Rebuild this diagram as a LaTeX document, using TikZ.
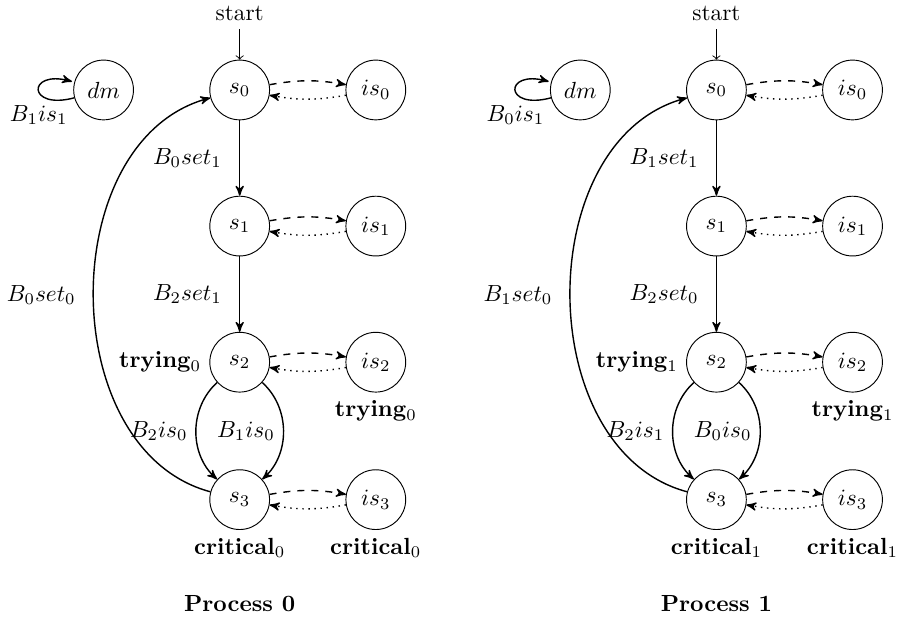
\documentclass[tikz,border=0pt]{standalone}
\usetikzlibrary{arrows,automata,positioning}

\tikzset{
  st/.style={state, minimum size=0.9cm, inner sep=1pt},
  trans/.style={->, >=stealth', semithick},
  back/.style={trans, bend left=75, looseness=1.05},
  req/.style={trans, dashed, bend left=10},
  ack/.style={trans, dotted, bend left=10},
}

\begin{document}
\begin{tikzpicture}[node distance=2.05cm, on grid, initial text=start]
\useasboundingbox (0,0) rectangle (13.57,-9.29);

% process 0
\node[st, initial above] (l-s0) at (3.61,-1.355) {$s_0$};
\node[st] (l-s1) [below=of l-s0] {$s_1$};
\node[st, label={left:{\textbf{trying}$_0$}}] (l-s2) [below=of l-s1] {$s_2$};
\node[st, label={below:{\textbf{critical}$_0$}}] (l-s3) [below=2.07cm of l-s2] {$s_3$};
\node[st] (l-is0) [right=of l-s0] {$is_0$};
\node[st] (l-is1) [right=of l-s1] {$is_1$};
\node[st, label={below:{\textbf{trying}$_0$}}] (l-is2) [right=of l-s2] {$is_2$};
\node[st, label={below:{\textbf{critical}$_0$}}] (l-is3) [right=of l-s3] {$is_3$};
\node[st] (l-dm) [left=of l-s0] {$dm$};
\node[font=\bfseries] (l-title) at ([yshift=-1.57cm]l-s3) {Process 0};

\path[trans] (l-s0) edge node[left=4pt] {$B_0set_1$} (l-s1)
  (l-s1) edge node[left=4pt] {$B_2set_1$} (l-s2)
  (l-s2) edge[bend right=48] node[left] {$B_2is_0$} (l-s3)
  (l-s2) edge[bend left=48] node[left] {$B_1is_0$} (l-s3)
  (l-s3) edge[back] node[left=4pt] {$B_0set_0$} (l-s0)
  (l-dm) edge[loop left] node[below=3pt] {$B_1is_1$} (l-dm);
\foreach \i in {0,...,3} {
  \draw[req] (l-s\i) to (l-is\i);
  \draw[ack] (l-is\i) to (l-s\i);
}

% process 1
\node[st, initial above] (r-s0) at (10.79,-1.355) {$s_0$};
\node[st] (r-s1) [below=of r-s0] {$s_1$};
\node[st, label={left:{\textbf{trying}$_1$}}] (r-s2) [below=of r-s1] {$s_2$};
\node[st, label={below:{\textbf{critical}$_1$}}] (r-s3) [below=2.07cm of r-s2] {$s_3$};
\node[st] (r-is0) [right=of r-s0] {$is_0$};
\node[st] (r-is1) [right=of r-s1] {$is_1$};
\node[st, label={below:{\textbf{trying}$_1$}}] (r-is2) [right=of r-s2] {$is_2$};
\node[st, label={below:{\textbf{critical}$_1$}}] (r-is3) [right=of r-s3] {$is_3$};
\node[st] (r-dm) [left=of r-s0] {$dm$};
\node[font=\bfseries] (r-title) at ([yshift=-1.57cm]r-s3) {Process 1};

\path[trans] (r-s0) edge node[left=4pt] {$B_1set_1$} (r-s1)
  (r-s1) edge node[left=4pt] {$B_2set_0$} (r-s2)
  (r-s2) edge[bend right=48] node[left] {$B_2is_1$} (r-s3)
  (r-s2) edge[bend left=48] node[left] {$B_0is_0$} (r-s3)
  (r-s3) edge[back] node[left=4pt] {$B_1set_0$} (r-s0)
  (r-dm) edge[loop left] node[below=3pt] {$B_0is_1$} (r-dm);
\foreach \i in {0,...,3} {
  \draw[req] (r-s\i) to (r-is\i);
  \draw[ack] (r-is\i) to (r-s\i);
}
\end{tikzpicture}
\end{document}
